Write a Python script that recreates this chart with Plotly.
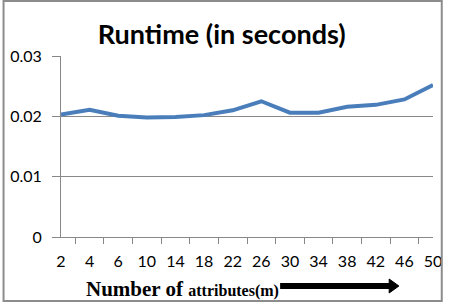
import plotly.graph_objects as go

categories = ["2", "4", "6", "10", "14", "18", "22", "26", "30", "34", "38", "42", "46", "50"]
runtime = [0.0203, 0.0211, 0.0201, 0.0198, 0.0199, 0.0202, 0.0210, 0.0225, 0.0206, 0.0206, 0.0216, 0.0219, 0.0228, 0.0252]
y_ticks = [0, 0.01, 0.02, 0.03]
y_tick_labels = ["0", "0.01", "0.02", "0.03"]

W, H = 452, 302
L, R, T, B = 60, 10, 56, 65
pw, ph = W - L - R, H - T - B


def px(x):
    return (x - L) / pw


def py(y):
    return (H - B - y) / ph


fig = go.Figure()
fig.add_trace(go.Scatter(x=categories, y=runtime, mode="lines",
                         line=dict(color="#4a7ebb", width=4), showlegend=False))

font_fam = "Lato, Open Sans, sans-serif"
fig.update_layout(
    width=W, height=H,
    margin=dict(l=L, r=R, t=T, b=B),
    paper_bgcolor="white", plot_bgcolor="white",
    title=dict(text="<b>Runtime (in seconds)</b>", x=px(225), xref="paper", xanchor="center",
               y=1 - 35 / H, yanchor="middle", font=dict(family=font_fam, size=27, color="black")),
    xaxis=dict(type="category", tickson="boundaries", ticks="outside", ticklen=6, tickcolor="#888",
               showline=True, linecolor="#888", linewidth=1, showgrid=False, tickangle=0,
               tickfont=dict(family=font_fam, size=16, color="black"), ticklabelstandoff=10),
    yaxis=dict(range=[0, 0.03], tickvals=y_ticks, ticktext=y_tick_labels, ticks="outside", ticklen=8,
               tickcolor="#888", showline=True, linecolor="#888", linewidth=1,
               showgrid=True, gridcolor="#888", gridwidth=1, zeroline=False,
               tickfont=dict(family=font_fam, size=16, color="black"), ticklabelstandoff=7),
)

# outer border
fig.add_shape(type="rect", xref="paper", yref="paper",
              x0=px(1), x1=px(W - 1), y0=py(H - 1), y1=py(1),
              line=dict(color="#8c8c8c", width=2), fillcolor="rgba(0,0,0,0)")

# axis title
fig.add_annotation(xref="paper", yref="paper", x=px(84), y=py(289),
                   xanchor="left", yanchor="middle", showarrow=False,
                   text="<b>Number of </b><b><span style='font-size:16px'>attributes(m)</span></b>",
                   font=dict(family="Liberation Serif, serif", size=21, color="black"))
# arrow
fig.add_shape(type="line", xref="paper", yref="paper", x0=px(285), x1=px(399), y0=py(286), y1=py(286),
              line=dict(color="black", width=6))
fig.add_shape(type="path", xref="paper", yref="paper",
              path=f"M {px(397)} {py(279)} L {px(407)} {py(286)} L {px(397)} {py(293)} Z",
              fillcolor="black", line=dict(color="black", width=1))

fig.write_html("out.html", config={"displayModeBar": False},
               post_script="document.body.style.margin='0';document.body.style.overflow='hidden';")
